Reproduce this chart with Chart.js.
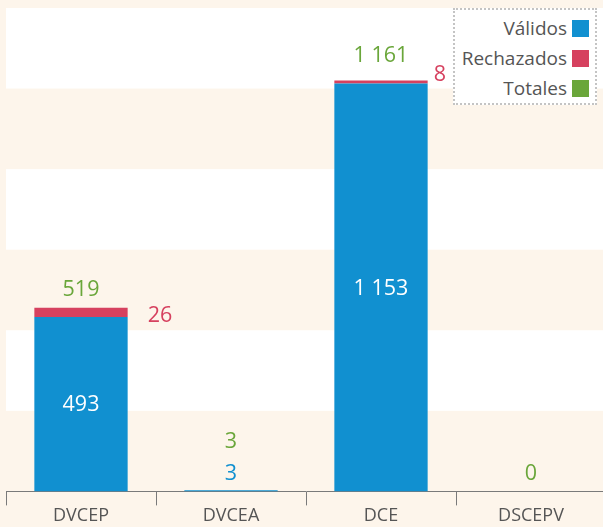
<!DOCTYPE html>
<html>
<head>
<meta charset="utf-8">
<script src="https://cdn.jsdelivr.net/npm/chart.js@4"></script>
<style>
  html, body { margin: 0; padding: 0; background: #fdf5eb; overflow: hidden; }
  #wrap { position: relative; width: 603px; height: 527px; overflow: hidden; }
  #legend { position: absolute; left: 453px; top: 8px; width: 140px; height: 90px;
    border: 2px dotted #c4c4c4; background: #fff; padding-top: 3px; box-sizing: content-box;
    font-family: "Open Sans", sans-serif; font-size: 19px; color: #555; }
  #legend .row { height: 30px; display: flex; align-items: center; justify-content: flex-end; padding-right: 6px; }
  #legend .sw { width: 17px; height: 17px; margin-left: 5px; }
</style>
</head>
<body>
<div id="wrap">
  <canvas id="chart" width="606" height="527"></canvas>
  <div id="legend"></div>
</div>
<script>
const categories = ['DVCEP', 'DVCEA', 'DCE', 'DSCEPV'];
const validos = [493, 3, 1153, 0];
const rechazados = [26, 0, 8, 0];
const totales = [519, 3, 1161, 0];
const seriesNames = ['Válidos', 'Rechazados', 'Totales'];
const yMax = 1366;
const bandStep = yMax / 6;

const BLUE = '#1190d0', PINK = '#d6415f', GREEN = '#6aa63a';
const FONT = '"Open Sans", sans-serif';

function fmt(v) { return String(v).replace(/\B(?=(\d{3})+(?!\d))/g, ' '); }

// white / cream bands behind the bars
const bands = {
    id: 'bands',
    beforeDraw(chart) {
        const ctx = chart.ctx, y = chart.scales.y, area = chart.chartArea;
        ctx.save();
        ctx.fillStyle = '#ffffff';
        for (let i = 1; i < 6; i += 2) {
            const top = y.getPixelForValue((i + 1) * bandStep);
            const bot = y.getPixelForValue(i * bandStep);
            ctx.fillRect(area.left, top, chart.width - area.left, bot - top);
        }
        ctx.restore();
    }
};

// value labels
const labels = {
    id: 'labels',
    afterDatasetsDraw(chart) {
        const ctx = chart.ctx, y = chart.scales.y;
        const mv = chart.getDatasetMeta(0), mr = chart.getDatasetMeta(1), mt = chart.getDatasetMeta(2);
        ctx.save();
        ctx.font = '21.5px ' + FONT;
        ctx.textBaseline = 'middle';
        for (let i = 0; i < categories.length; i++) {
            const bv = mv.data[i], br = mr.data[i];
            const x = bv.x, zero = y.getPixelForValue(0);
            const top = mt.data[i].y;
            let greenY = top - 18;
            if (validos[i] > 0) {
                ctx.textAlign = 'center';
                if (zero - bv.y > 30) {
                    ctx.fillStyle = '#ffffff';
                    ctx.fillText(fmt(validos[i]), x, (bv.y + zero) / 2 + 1);
                } else {
                    ctx.fillStyle = BLUE;
                    ctx.fillText(fmt(validos[i]), x, bv.y - 16);
                    greenY = bv.y - 48;
                }
            }
            if (rechazados[i] > 0) {
                const segTop = br.y, segBot = br.base;
                const right = x + br.width / 2;
                ctx.fillStyle = PINK;
                ctx.textAlign = 'left';
                if (segBot - segTop < 5) {
                    ctx.fillText(fmt(rechazados[i]), right + 6, segTop - 6);
                    greenY = top - 25;
                } else {
                    ctx.fillText(fmt(rechazados[i]), right + 20, (segTop + segBot) / 2 + 4);
                }
            }
            ctx.fillStyle = GREEN;
            ctx.textAlign = 'center';
            ctx.fillText(fmt(totales[i]), x, greenY);
        }
        ctx.restore();
    }
};

new Chart(document.getElementById('chart'), {
    type: 'bar',
    data: {
        labels: categories,
        datasets: [
            { label: seriesNames[0], data: validos, backgroundColor: BLUE, stack: 'a',
              categoryPercentage: 1, barPercentage: 0.622 },
            { label: seriesNames[1], data: rechazados, backgroundColor: PINK, stack: 'a',
              categoryPercentage: 1, barPercentage: 0.622 },
            { label: seriesNames[2], data: totales, type: 'line', stack: 'tot', showLine: false,
              pointRadius: 0, backgroundColor: GREEN, borderColor: GREEN }
        ]
    },
    options: {
        responsive: false, animation: false,
        layout: { padding: { left: 6, top: 8, right: 0, bottom: 0 } },
        plugins: { legend: { display: false }, tooltip: { enabled: false } },
        scales: {
            x: { stacked: true, offset: true,
                 grid: { offset: true, drawOnChartArea: false, tickLength: 14, color: '#7a7a7a' },
                 border: { color: '#7a7a7a', width: 1 },
                 ticks: { color: '#555', padding: 0, font: { family: FONT, size: 18 } } },
            y: { stacked: true, display: false, min: 0, max: yMax }
        }
    },
    plugins: [bands, labels]
});

const legend = document.getElementById('legend');
[BLUE, PINK, GREEN].forEach((c, i) => {
    const row = document.createElement('div');
    row.className = 'row';
    row.innerHTML = '<span>' + seriesNames[i] + '</span><span class="sw" style="background:' + c + '"></span>';
    legend.appendChild(row);
});
</script>
</body>
</html>
